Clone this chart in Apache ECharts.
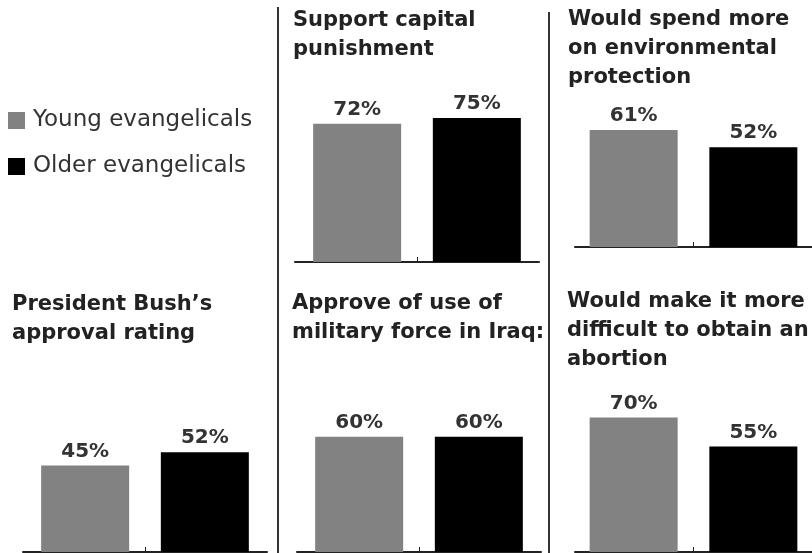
<!DOCTYPE html>
<html>
<head>
<meta charset="utf-8">
<script src="https://cdn.jsdelivr.net/npm/echarts@6/dist/echarts.min.js"></script>
<style>
html,body{margin:0;padding:0;background:#fff;}
#chart{width:812px;height:553px;}
</style>
</head>
<body>
<div id="chart"></div>
<script>
// ---- data ----
const seriesNames = ['Young evangelicals', 'Older evangelicals'];
const panelTitles = [
  'Support capital\npunishment',
  'Would spend more\non environmental\nprotection',
  'President Bush\u2019s\napproval rating',
  'Approve of use of\nmilitary force in Iraq:',
  'Would make it more\ndifficult to obtain an\nabortion'
];
const youngValues = [72, 61, 45, 60, 70];
const olderValues = [75, 52, 52, 60, 55];

// ---- layout ----
const panelLayout = [
  { left: 295, top: 70, titleLeft: 293, titleTop: 6 },
  { left: 575, top: 55, titleLeft: 568, titleTop: 5 },
  { left: 23, top: 360, titleLeft: 12, titleTop: 290 },
  { left: 297, top: 360, titleLeft: 292, titleTop: 289 },
  { left: 575, top: 360, titleLeft: 567, titleTop: 287 }
];
const colors = ['#828282', '#000000'];
const FONT = 'DejaVu Sans';

const grids = [], xAxes = [], yAxes = [], series = [], titles = [];
panelLayout.forEach((p, i) => {
  grids.push({ left: p.left, top: p.top, width: 244, height: 192, containLabel: false });
  xAxes.push({
    type: 'category', gridIndex: i, data: [''],
    axisLine: { show: true, lineStyle: { color: '#222', width: 2 } },
    axisTick: { show: true, inside: true, alignWithLabel: true, length: 5, lineStyle: { color: '#222', width: 1 } },
    axisLabel: { show: false }
  });
  yAxes.push({ type: 'value', gridIndex: i, min: 0, max: 100, show: false, splitLine: { show: false } });
  titles.push({
    text: panelTitles[i], left: p.titleLeft, top: p.titleTop, padding: 0,
    textStyle: { fontFamily: FONT, fontWeight: 'bold', fontSize: 21, lineHeight: 29, color: '#222' }
  });
  [youngValues, olderValues].forEach((vals, k) => {
    series.push({
      name: seriesNames[k], type: 'bar', xAxisIndex: i, yAxisIndex: i,
      data: [vals[i]], barWidth: 88, barGap: '36%',
      itemStyle: { color: colors[k] },
      label: {
        show: true, position: 'top', distance: 4, formatter: '{c}%',
        fontFamily: FONT, fontWeight: 'bold', fontSize: 20, color: '#333'
      },
      emphasis: { disabled: true },
      animation: false
    });
  });
});

const chart = echarts.init(document.getElementById('chart'));
chart.setOption({
  backgroundColor: '#fff',
  animation: false,
  title: titles,
  legend: {
    data: seriesNames, orient: 'vertical', left: 8, top: 109, padding: 0,
    icon: 'rect', itemWidth: 17, itemHeight: 17, itemGap: 23,
    textStyle: { fontFamily: FONT, fontSize: 23, lineHeight: 22, color: '#333', padding: [0, 0, 0, 3] },
    selectedMode: false
  },
  grid: grids,
  xAxis: xAxes,
  yAxis: yAxes,
  series: series,
  graphic: [
    { type: 'line', shape: { x1: 278, y1: 7, x2: 278, y2: 553 }, style: { stroke: '#333', lineWidth: 2 } },
    { type: 'line', shape: { x1: 549, y1: 12, x2: 549, y2: 553 }, style: { stroke: '#333', lineWidth: 2 } }
  ]
});
</script>
</body>
</html>
